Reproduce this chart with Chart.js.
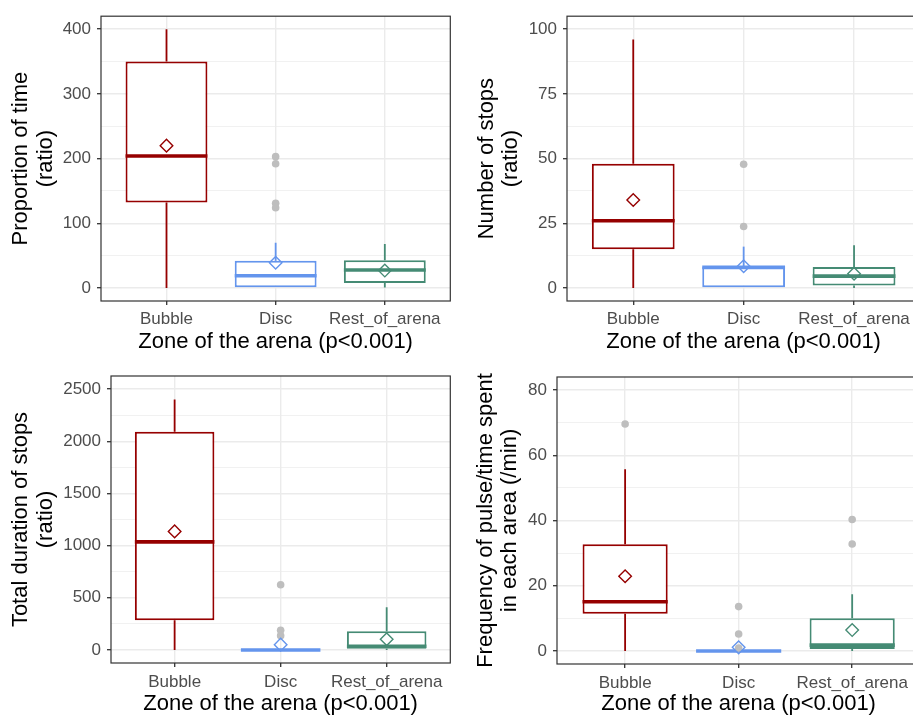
<!DOCTYPE html>
<html>
<head>
<meta charset="utf-8">
<script src="https://cdn.jsdelivr.net/npm/chart.js@4.4.1/dist/chart.umd.min.js"></script>
<style>
  html, body { margin: 0; padding: 0; background: #fff; overflow: hidden; width: 913px; height: 716px; }
  .panel { position: absolute; }
</style>
</head>
<body>
<div class="panel" style="left:0;top:0"><canvas id="c1" width="458" height="358"></canvas></div>
<div class="panel" style="left:458px;top:0"><canvas id="c2" width="470" height="358"></canvas></div>
<div class="panel" style="left:0;top:358px"><canvas id="c3" width="458" height="358"></canvas></div>
<div class="panel" style="left:458px;top:358px"><canvas id="c4" width="470" height="358"></canvas></div>
<script>
// Zones and colours
const zones = ['Bubble', 'Disc', 'Rest_of_arena'];
const zoneColors = ['#960000', '#6495ED', '#458B74'];
const xTitle = 'Zone of the arena (p<0.001)';

// Panel 1: proportion of time
const timeLower = [0, 0, 1];
const timeQ1 = [132, 0, 8];
const timeMedian = [204, 19, 28];
const timeQ3 = [350, 42, 43];
const timeUpper = [400, 70, 68];
const timeMean = [220, 39, 27];
const timeOutliers = [[], [203, 192, 131, 124], []];
const timeTicks = [0, 100, 200, 300, 400];

// Panel 2: number of stops
const stopsLower = [0, 0, 0];
const stopsQ1 = [15, 0, 1];
const stopsMedian = [26, 8, 4.6];
const stopsQ3 = [48, 8.2, 8.1];
const stopsUpper = [96, 16, 16.5];
const stopsMean = [34, 8.4, 5.5];
const stopsOutliers = [[], [47.8, 23.8], []];
const stopsTicks = [0, 25, 50, 75, 100];

// Panel 3: total duration of stops
const durLower = [0, 0, 0];
const durQ1 = [284, 0, 12];
const durMedian = [1036, 0, 35];
const durQ3 = [2090, 8, 179];
const durUpper = [2400, 12, 408];
const durMean = [1136, 51, 102];
const durOutliers = [[], [625, 188, 137], []];
const durTicks = [0, 500, 1000, 1500, 2000, 2500];

// Panel 4: frequency of pulse / time spent
const pulseLower = [0, 0, 0];
const pulseQ1 = [11.4, 0, 0.6];
const pulseMedian = [15.1, 0, 1.8];
const pulseQ3 = [32.7, 0.2, 10];
const pulseUpper = [55.7, 0.2, 17.4];
const pulseMean = [22.9, 1.1, 6.4];
const pulseOutliers = [[69.6], [13.6, 5.2, 0.9], [40.3, 32.8]];
const pulseTicks = [0, 20, 40, 60, 80];

const FONT = "'Liberation Sans', Arial, sans-serif";

// whiskers, medians and panel border
function makeBoxPlugin(p) {
  return {
    id: 'boxStats',
    beforeDatasetsDraw(chart) {
      const {ctx, scales: {x, y}} = chart;
      ctx.save();
      ctx.lineWidth = 1.8;
      zones.forEach((z, i) => {
        const px = x.getPixelForValue(i);
        ctx.strokeStyle = zoneColors[i];
        ctx.beginPath();
        ctx.moveTo(px, y.getPixelForValue(p.upper[i]));
        ctx.lineTo(px, y.getPixelForValue(p.q3[i]));
        ctx.moveTo(px, y.getPixelForValue(p.q1[i]));
        ctx.lineTo(px, y.getPixelForValue(p.lower[i]));
        ctx.stroke();
      });
      ctx.restore();
    },
    afterDatasetDraw(chart, args) {
      if (args.index !== 0) return;
      const {ctx, scales: {y}} = chart;
      ctx.save();
      ctx.lineWidth = 3.6;
      args.meta.data.forEach((bar, i) => {
        const {x: bx, width} = bar.getProps(['x', 'width'], true);
        const py = y.getPixelForValue(p.median[i]);
        ctx.strokeStyle = zoneColors[i];
        ctx.beginPath();
        ctx.moveTo(bx - width / 2, py);
        ctx.lineTo(bx + width / 2, py);
        ctx.stroke();
      });
      ctx.restore();
    },
    afterDraw(chart) {
      const {ctx, chartArea: a} = chart;
      ctx.save();
      ctx.strokeStyle = '#333333';
      ctx.lineWidth = 1.2;
      ctx.strokeRect(a.left, a.top, a.right - a.left, a.bottom - a.top);
      ctx.restore();
    }
  };
}

function makePanel(id, p) {
  const canvas = document.getElementById(id);
  const H = canvas.height;
  const minor = p.ticks.slice(0, -1).map((v, i) => (v + p.ticks[i + 1]) / 2);
  const yTicks = p.ticks.concat(minor).sort((a, b) => a - b);
  const isMajor = v => p.ticks.includes(v);

  const outlierPts = [];
  p.outliers.forEach((list, i) => list.forEach(v => outlierPts.push({x: i, y: v})));

  new Chart(canvas, {
    type: 'bar',
    data: {
      datasets: [
        {
          type: 'bar',
          data: zones.map((z, i) => ({x: i, y: [p.q1[i], p.q3[i]]})),
          backgroundColor: '#ffffff',
          borderColor: zoneColors,
          borderWidth: 2,
          borderSkipped: false,
          barPercentage: 0.75,
          categoryPercentage: 1,
          order: 3
        },
        {
          type: 'scatter',
          data: outlierPts,
          pointRadius: 3.8,
          pointBackgroundColor: '#BEBEBE',
          pointBorderWidth: 0,
          order: 2
        },
        {
          type: 'scatter',
          data: zones.map((z, i) => ({x: i, y: p.mean[i]})),
          pointStyle: 'rectRot',
          pointRadius: 6.3,
          pointBorderColor: zoneColors,
          pointBackgroundColor: 'rgba(0,0,0,0)',
          pointBorderWidth: 1.4,
          order: 1
        }
      ]
    },
    options: {
      responsive: false,
      animation: false,
      layout: { padding: { top: p.padTop, right: p.padRight, left: 0, bottom: 0 } },
      plugins: { legend: { display: false }, tooltip: { enabled: false } },
      scales: {
        x: {
          type: 'linear',
          min: -0.6,
          max: 2.6,
          offset: false,
          afterBuildTicks: s => { s.ticks = zones.map((z, i) => ({value: i})); },
          afterFit: s => { s.height = H - p.plotBottom; },
          ticks: {
            callback: v => zones[v],
            color: '#4D4D4D',
            font: { family: FONT, size: 17 },
            padding: p.xTickPad,
            autoSkip: false,
            maxRotation: 0
          },
          grid: { color: '#EBEBEB', lineWidth: 1.4, tickLength: 4, tickColor: '#333333', tickWidth: 1.3, offset: false },
          border: { display: false },
          title: {
            display: true,
            text: xTitle,
            color: '#000000',
            font: { family: FONT, size: 22, lineHeight: 1.1 },
            padding: { top: 0, bottom: p.xTitlePad }
          }
        },
        y: {
          min: p.yMin,
          max: p.yMax,
          afterBuildTicks: s => { s.ticks = yTicks.map(v => ({value: v})); },
          afterFit: s => { s.width = p.plotLeft; },
          ticks: {
            callback: v => isMajor(v) ? String(v) : '',
            color: '#4D4D4D',
            font: { family: FONT, size: 17 },
            padding: 6,
            autoSkip: false
          },
          grid: {
            color: '#EBEBEB',
            lineWidth: c => (c.tick && isMajor(c.tick.value)) ? 1.4 : 0.7,
            tickColor: c => (c.tick && isMajor(c.tick.value)) ? '#333333' : 'rgba(0,0,0,0)',
            tickLength: 4,
            tickWidth: 1.3
          },
          border: { display: false },
          title: {
            display: true,
            text: p.yTitle,
            color: '#000000',
            font: { family: FONT, size: 22, lineHeight: 1.1 },
            padding: { top: p.yTitlePad, bottom: 0 }
          }
        }
      }
    },
    plugins: [makeBoxPlugin(p)]
  });
}

makePanel('c1', {
  lower: timeLower, q1: timeQ1, median: timeMedian, q3: timeQ3, upper: timeUpper,
  mean: timeMean, outliers: timeOutliers, ticks: timeTicks,
  yMin: -20, yMax: 420, yTitle: ['Proportion of time', '(ratio)'],
  plotLeft: 101, padRight: 2, padTop: 15, plotBottom: 301,
  xTickPad: 4, xTitlePad: 3.5, yTitlePad: 9.3
});

makePanel('c2', {
  lower: stopsLower, q1: stopsQ1, median: stopsMedian, q3: stopsQ3, upper: stopsUpper,
  mean: stopsMean, outliers: stopsOutliers, ticks: stopsTicks,
  yMin: -5, yMax: 105, yTitle: ['Number of stops', '(ratio)'],
  plotLeft: 109, padRight: 6, padTop: 15, plotBottom: 301,
  xTickPad: 4, xTitlePad: 3.5, yTitlePad: 16.5
});

makePanel('c3', {
  lower: durLower, q1: durQ1, median: durMedian, q3: durQ3, upper: durUpper,
  mean: durMean, outliers: durOutliers, ticks: durTicks,
  yMin: -125, yMax: 2625, yTitle: ['Total duration of stops', '(ratio)'],
  plotLeft: 111, padRight: 2, padTop: 18, plotBottom: 305,
  xTickPad: 5, xTitlePad: 0, yTitlePad: 9.3
});

makePanel('c4', {
  lower: pulseLower, q1: pulseQ1, median: pulseMedian, q3: pulseQ3, upper: pulseUpper,
  mean: pulseMean, outliers: pulseOutliers, ticks: pulseTicks,
  yMin: -4, yMax: 84, yTitle: ['Frequency of pulse/time spent', 'in each area (/min)'],
  plotLeft: 99, padRight: 7, padTop: 19, plotBottom: 306,
  xTickPad: 5, xTitlePad: 0, yTitlePad: 16
});
</script>
</body>
</html>
